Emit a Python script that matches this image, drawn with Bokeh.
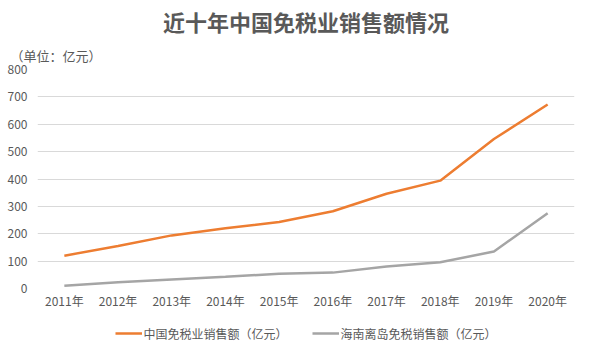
from bokeh.plotting import figure
from bokeh.models import Title, Legend, LegendItem, Range1d, FactorRange
from bokeh.layouts import column
from bokeh.embed import file_html
from bokeh.resources import INLINE

years = ["2011年", "2012年", "2013年", "2014年", "2015年", "2016年", "2017年", "2018年", "2019年", "2020年"]
china_sales = [120, 155, 194, 220, 243, 282, 346, 394, 546, 672]
hainan_sales = [10, 23, 33, 43, 54, 58, 80, 96, 135, 275]
y_ticks = [0, 100, 200, 300, 400, 500, 600, 700, 800]
series_names = ["中国免税业销售额（亿元）", "海南离岛免税销售额（亿元）"]
series_colors = ["#ED7D31", "#A5A5A5"]

FONT = "Noto Sans CJK SC"
TXT = "#595959"

p = figure(width=589, height=313, x_range=FactorRange(*years), y_range=Range1d(0, 800),
           output_backend="svg", toolbar_location=None,
           min_border_left=37, min_border_right=15, min_border_top=69, min_border_bottom=25)
p.outline_line_color = None
p.background_fill_color = "white"
p.border_fill_color = "white"

p.line(years, china_sales, line_color=series_colors[0], line_width=2.5)
p.line(years, hainan_sales, line_color=series_colors[1], line_width=2.5)

p.yaxis.ticker = y_ticks
p.yaxis.axis_line_color = None
p.yaxis.major_tick_line_color = None
p.yaxis.minor_tick_line_color = None
p.yaxis.major_label_text_color = TXT
p.yaxis.major_label_text_font = FONT
p.yaxis.major_label_text_font_size = "12px"
p.yaxis.major_label_standoff = 4

p.xaxis.axis_line_color = None
p.xaxis.major_tick_line_color = None
p.xaxis.major_label_text_color = TXT
p.xaxis.major_label_text_font = FONT
p.xaxis.major_label_text_font_size = "12px"
p.xaxis.major_label_standoff = -3

p.xgrid.grid_line_color = None
p.ygrid.grid_line_color = "#D9D9D9"
p.ygrid.grid_line_width = 1

sub = Title(text="（单位：亿元）", align="left", text_font=FONT, text_font_size="13px",
            text_color=TXT, text_font_style="normal", offset=-27)
p.add_layout(sub, "above")
main = Title(text="近十年中国免税业销售额情况", align="center", text_font=FONT, text_font_size="22px",
             text_color=TXT, text_font_style="bold", standoff=4, offset=-10)
p.add_layout(main, "above")

# legend strip: same series drawn out of view so only the legend shows
lg = figure(width=589, height=40, output_backend="svg", toolbar_location=None,
            min_border=0, x_range=FactorRange(*years), y_range=Range1d(-2000, -1900))
lg.axis.visible = False
lg.grid.visible = False
lg.outline_line_color = None
lg.border_fill_color = "white"
items = []
for name, col, vals in zip(series_names, series_colors, [china_sales, hainan_sales]):
    r = lg.line(years, vals, line_color=col, line_width=2.5)
    items.append(LegendItem(label=name, renderers=[r]))
legend = Legend(items=items, orientation="horizontal", location="center",
                label_text_font=FONT, label_text_font_size="12px", label_text_color=TXT,
                border_line_color=None, background_fill_alpha=0, glyph_width=27, spacing=24,
                padding=0, margin=0, label_standoff=2)
lg.add_layout(legend)

layout = column(p, lg, spacing=0)
open("out.html", "w").write(file_html(layout, INLINE))
